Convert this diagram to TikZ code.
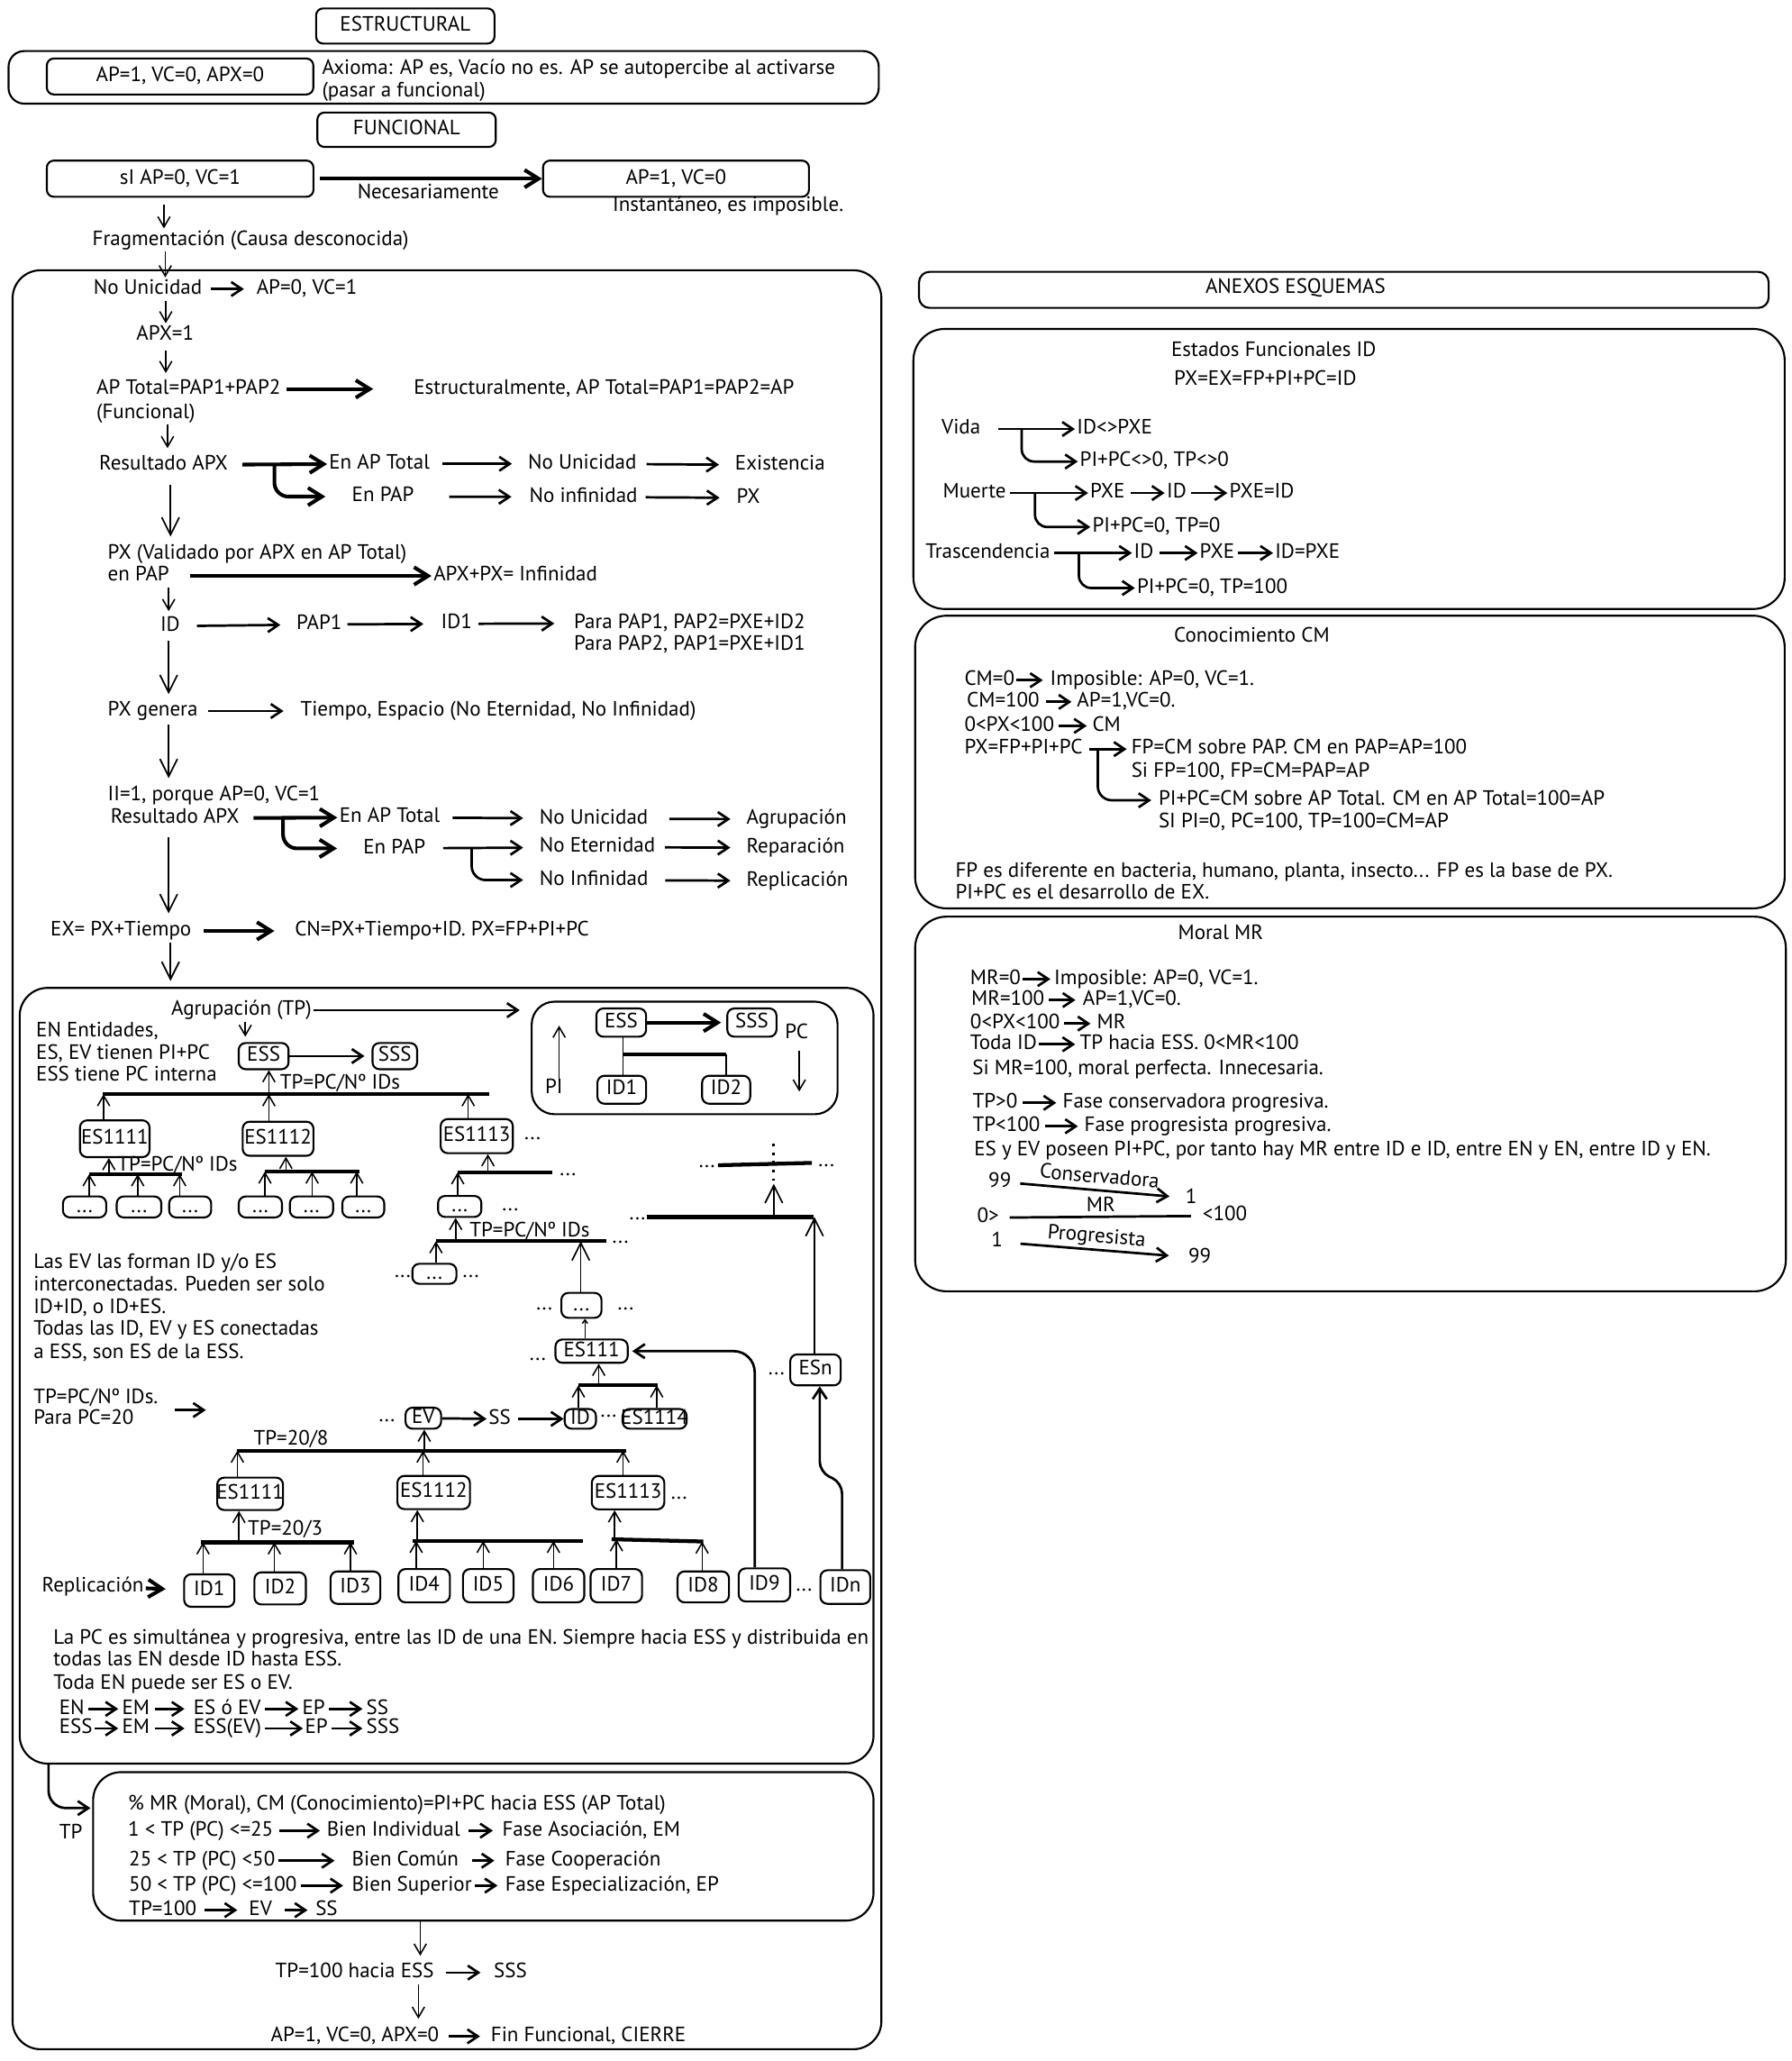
\documentclass[tikz,border=0pt]{standalone}
\usepackage{fontspec}
\setmainfont{PT Sans}
\usetikzlibrary{arrows.meta,fit}
\newcommand\bxn[3]{\node[bx, fit={#2}] (#1) {}; \node[tcen] (#1-t) at (#1.center) {#3};}
\begin{document}
\begin{tikzpicture}[x=0.75pt,y=-0.75pt,
  every node/.style={font=\fontsize{11.85}{14}\selectfont},
  tx/.style={inner sep=1pt, anchor=west, text height=8.4pt, text depth=2.5pt},
  tcen/.style={inner sep=1pt, text height=8.4pt, text depth=2.5pt},
  bx/.style={draw, line width=1.1pt, rounded corners=4pt, inner sep=0pt},
  cont/.style={draw, line width=1.1pt, rounded corners=14pt, inner sep=0pt},
  arr/.style={-{Straight Barb[length=6pt,width=7pt]}, line width=0.8pt},
  marr/.style={-{Straight Barb[length=6pt,width=8pt]}, line width=1.4pt},
  harr/.style={-{Straight Barb[length=8pt,width=10pt]}, line width=2.1pt},
  barr/.style={-{Straight Barb[length=10pt,width=10pt]}, line width=0.9pt},
  hbar/.style={line width=2.2pt},
  ln/.style={line width=1pt},
]
\fill[white] (0,0) rectangle (1366,1571);
\useasboundingbox (0,0) rectangle (1366,1571);

% ---------------- top
\bxn{estr}{(241,6.4) (377,33.2)}{ESTRUCTURAL}
\node[cont, rounded corners=9pt, fit={(6.5,38.9) (670,79)}] (axb) {};
\bxn{apa}{(35.7,44.6) (238.9,72)}{AP=1, VC=0, APX=0}
\node[tx] (ax1) at (244,53) {Axioma: AP es, Vacío no es. AP se autopercibe al activarse};
\node[tx] (ax2) at (244,69.8) {(pasar a funcional)};
\bxn{func}{(242,85.8) (378,112)}{FUNCIONAL}
\bxn{si}{(35.7,122.4) (239,150)}{sI AP=0, VC=1}
\bxn{apb}{(414,122.4) (616.8,150)}{AP=1, VC=0}
\draw[harr, shorten <=3pt] (si) -- (apb) node[midway, below=1pt, tcen] (nec) {Necesariamente};
\node[tx] (inst) at (465.6,157.4) {Instantáneo, es imposible.};
\node[tx] (frag) at (68.9,183) {Fragmentación (Causa desconocida)};
\draw[arr, shorten <=4pt] (si.south -| 125,0) -- (frag.north -| 125,0);

% ---------------- main container
\node[cont, rounded corners=16pt, fit={(9.6,206) (672,1562)}] (mainb) {};
\node[tx] (nu) at (69.7,220.3) {No Unicidad};
\node[tx] (nuv) at (194,220.3) {AP=0, VC=1};
\draw[arr] (frag.south -| 126,0) -- (nu.north -| 126,0);
\draw[marr, shorten <=4pt, shorten >=6pt] (nu) -- (nuv);
\node[tx] (apx) at (102.4,255.3) {APX=1};
\draw[arr] (nu.south -| 126.4,0) -- (apx.north -| 126.4,0);
\node[tx] (apt) at (72,296.5) {AP Total=PAP1+PAP2};
\node[tx] (funl) at (72,314.8) {(Funcional)};
\node[tx] (estm) at (313.9,296.5) {Estructuralmente, AP Total=PAP1=PAP2=AP};
\draw[arr, shorten <=2.5pt, shorten >=2.5pt] (apx.south -| 126.4,0) -- (apt.north -| 126.4,0);
\draw[harr, shorten <=2pt, shorten >=22pt] (apt) -- (estm);

\node[tx] (res1) at (74.1,354.5) {Resultado APX};
\draw[arr, shorten >=3pt] (funl.south -| 127.7,0) -- (res1.north -| 127.7,0);
\node[tx] (eat1) at (249.4,353.5) {En AP Total};
\node[tx] (epap1) at (266.8,378.5) {En PAP};
\node[tx] (nu1) at (401,353.5) {No Unicidad};
\node[tx] (exi) at (558.9,354.5) {Existencia};
\node[tx] (ninf1) at (402,378.8) {No infinidad};
\node[tx] (px1) at (560,379.5) {PX};
\draw[harr, shorten <=7pt] (res1) -- (eat1);
\coordinate (br1) at (209.2,353.8);
\draw[harr, rounded corners=8pt, shorten >=14pt] (br1) |- (epap1.west);
\draw[marr, shorten <=6pt, shorten >=8pt] (eat1) -- (nu1);
\draw[marr, shorten <=4.5pt, shorten >=8pt] (nu1) -- (exi);
\draw[marr, shorten <=19pt, shorten >=9pt] (epap1) -- (ninf1);
\draw[marr, shorten <=3.5pt, shorten >=8.5pt] (ninf1) -- (px1);

\node[tx] (pxv) at (80.6,422.4) {PX (Validado por APX en AP Total)};
\draw[barr, shorten <=4.4pt, shorten >=3.4pt] (res1.south -| 130,0) -- (pxv.north -| 130,0);
\node[tx] (enpap) at (80.6,439) {en PAP};
\node[tx] (inf) at (329,439) {APX+PX= Infinidad};
\draw[harr, shorten <=11pt] (enpap) -- (inf);
\node[tx] (id0) at (120.7,477.3) {ID};
\draw[arr, shorten >=2pt] (enpap.south -| 128.6,0) -- (id0.north -| 128.6,0);
\node[tx] (pap1) at (224.5,476) {PAP1};
\node[tx] (id1t) at (334.8,475.5) {ID1};
\node[tx] (para1) at (436,475) {Para PAP1, PAP2=PXE+ID2};
\node[tx] (para2) at (436,491.8) {Para PAP2, PAP1=PXE+ID1};
\draw[marr, shorten <=8.5pt, shorten >=8pt] (id0) -- (pap1);
\draw[marr, shorten <=2pt, shorten >=9pt] (pap1) -- (id1t);
\draw[marr, shorten <=2.5pt, shorten >=10pt] (id1t) -- (para1);

\node[tx] (pxg) at (80.6,542) {PX genera};
\node[tx] (tie) at (227.5,542) {Tiempo, Espacio (No Eternidad, No Infinidad)};
\draw[barr, shorten <=1.6pt, shorten >=3pt] (id0.south -| 128.6,0) -- (pxg.north -| 128.6,0);
\draw[marr, shorten <=5pt, shorten >=8.5pt] (pxg) -- (tie);

\node[tx] (ii) at (80.6,606.7) {II=1, porque AP=0, VC=1};
\draw[barr, shorten <=1.2pt, shorten >=3.5pt] (pxg.south -| 128.6,0) -- (ii.north -| 128.6,0);
\node[tx] (res2) at (82.8,623.8) {Resultado APX};
\node[tx] (eat2) at (257.2,623) {En AP Total};
\node[tx] (epap2) at (275.5,646.7) {En PAP};
\node[tx] (nu2) at (409.8,624) {No Unicidad};
\node[tx] (agr) at (567.6,624.5) {Agrupación};
\node[tx] (noet) at (409.8,645.8) {No Eternidad};
\node[tx] (repa) at (567.6,646.2) {Reparación};
\node[tx] (ninf2) at (409.8,670.8) {No Infinidad};
\node[tx] (repl) at (567.6,671.5) {Replicación};
\draw[harr, shorten <=7pt] (res2) -- (eat2);
\coordinate (br2) at (215.8,623.3);
\draw[harr, rounded corners=8pt, shorten >=13.9pt] (br2) |- (epap2.west);
\draw[marr, shorten <=6pt, shorten >=8.2pt] (eat2) -- (nu2);
\draw[marr, shorten <=11pt, shorten >=8pt] (nu2) -- (agr);
\draw[marr, shorten <=9pt, shorten >=8.2pt] (epap2) -- (noet);
\draw[marr, shorten <=4.5pt, shorten >=8pt] (noet) -- (repa);
\coordinate (br3) at (359.6,646);
\draw[marr, rounded corners=8pt, shorten >=8.2pt] (br3) |- (ninf2.west);
\draw[marr, shorten <=8.5pt, shorten >=8pt] (ninf2) -- (repl);

\node[tx] (ex) at (37,709.6) {EX= PX+Tiempo};
\node[tx] (cn) at (223.2,709.6) {CN=PX+Tiempo+ID. PX=FP+PI+PC};
\draw[barr, shorten <=4.2pt, shorten >=3.4pt] (res2.south -| 128.6,0) -- (ex.north -| 128.6,0);
\draw[harr, shorten <=6pt, shorten >=10.5pt] (ex) -- (cn);

% ---------------- inner box 2
\node[cont, rounded corners=16pt, fit={(15,753) (666,1344.3)}] (b2) {};
\draw[barr, shorten >=3.4pt] (ex.south -| 130,0) -- (b2.north -| 130,0);

\node[tx] (agtp) at (129,770) {Agrupación (TP)};
\node[cont, rounded corners=13pt, fit={(405.4,763.5) (638.6,849.3)}] (pcb) {};
\draw[marr, shorten >=6.3pt] (agtp.east) -- (agtp.east -| pcb.west);
\bxn{essb}{(454.7,768.7) (492.6,790.2)}{ESS}
\bxn{sssb}{(554.5,768.7) (592,790.2)}{SSS}
\draw[harr, shorten >=3pt] (essb) -- (sssb);
\node[tx] (pcl) at (597,787.5) {PC};
\coordinate (pct) at (609.4,801.2);
\coordinate (pcbt) at (609.4,832);
\draw[arr] (pct) -- (pcbt);
\node[tx] (pil) at (414,829.8) {PI};
\coordinate (pib) at (426.3,825);
\coordinate (pit) at (426.3,781.8);
\draw[arr] (pib) -- (pit);
\bxn{id1b}{(455.5,820) (492.6,841.3)}{ID1}
\bxn{id2b}{(535.3,820) (572,841.3)}{ID2}
\draw[ln] (essb.south -| 475,0) -- (id1b.north -| 475,0);
\coordinate (pcj) at (475,803.5);
\draw[hbar] (pcj) -- (id2b.north |- pcj);
\draw[ln] (id2b.north |- pcj) -- (id2b.north);

\node[tx] (en1) at (26,786.5) {EN Entidades,};
\node[tx] (en2) at (26,803.5) {ES, EV tienen PI+PC};
\node[tx] (en3) at (26,820) {ESS tiene PC interna};
\bxn{ess1}{(182,795) (220,815)}{ESS}
\bxn{sss1}{(284,795) (318,815)}{SSS}
\draw[arr, shorten >=3pt] (agtp.south -| 187,0) -- (ess1.north -| 187,0);
\draw[marr, shorten >=4pt] (ess1) -- (sss1);
\coordinate (t1l) at (78,834);
\coordinate (t1r) at (373,834);
\draw[hbar] (t1l) -- (t1r);
\draw[arr] (t1l -| 205,0) -- (ess1.south -| 205,0);
\node[tx] (tp1) at (212,826.5) {TP=PC/Nº IDs};

\bxn{a1}{(61,854) (114,882)}{ES1111}
\bxn{a2}{(185,855) (239,881)}{ES1112}
\bxn{a3}{(336,853) (391,879)}{ES1113}
\node[tcen] (d1) at (406,865) {...};
\draw[arr] (a1.north -| 79,0) -- (t1l -| 79,0);
\draw[arr] (a2.north -| 205,0) -- (t1l -| 205,0);
\draw[arr] (a3.north -| 357,0) -- (t1l -| 357,0);

\coordinate (t2l) at (68,895);
\coordinate (t2r) at (139,895);
\draw[hbar] (t2l) -- (t2r);
\draw[arr] (t2l -| 83,0) -- (a1.south -| 83,0);
\node[tx] (tp2) at (88,888.6) {TP=PC/Nº IDs};
\bxn{a11}{(48,912) (81,928)}{...}
\bxn{a12}{(89,912) (123,928)}{...}
\bxn{a13}{(129,912) (161,928)}{...}
\draw[arr] (a11.north -| 68,0) -- (t2l -| 68,0);
\draw[arr] (a12.north -| 105,0) -- (t2l -| 105,0);
\draw[arr] (a13.north -| 137,0) -- (t2l -| 137,0);

\coordinate (t3l) at (202,893);
\coordinate (t3r) at (274,893);
\draw[hbar] (t3l) -- (t3r);
\draw[arr] (t3l -| 218,0) -- (a2.south -| 218,0);
\bxn{a21}{(182,912) (215,928)}{...}
\bxn{a22}{(221,912) (254,928)}{...}
\bxn{a23}{(261,912) (293,928)}{...}
\draw[arr] (a21.north -| 202,0) -- (t3l -| 202,0);
\draw[arr] (a22.north -| 238,0) -- (t3l -| 238,0);
\draw[arr] (a23.north -| 272,0) -- (t3l -| 272,0);

\coordinate (t4l) at (349,893.5);
\coordinate (t4r) at (421,893.5);
\draw[hbar] (t4l) -- (t4r);
\draw[arr] (t4l -| 372,0) -- (a3.south -| 372,0);
\node[tcen] (d2) at (433,892) {...};
\bxn{a31}{(334,911.6) (367,927.6)}{...}
\draw[arr] (a31.north -| 349,0) -- (t4l -| 349,0);
\node[tcen] (d3) at (389,918.6) {...};

% right part of tree
\node[tcen] (d4) at (539,886) {...};
\coordinate (t5l) at (547.4,888.2);
\coordinate (t5r) at (619,886.4);
\draw[hbar] (t5l) -- (t5r);
\node[tcen] (d5) at (630,885) {...};
\coordinate (dott) at (590,871.7);
\coordinate (dotb) at (590,899.7);
\draw[line width=1.5pt, dash pattern=on 1.5pt off 3.5pt] (dott) -- (dotb);
\coordinate (t6l) at (493,927.6);
\coordinate (t6r) at (620.2,927.6);
\draw[hbar] (t6l) -- (t6r);
\node[tcen] (d6) at (486,926) {...};
\draw[barr] (t6l -| dotb) -- ([yshift=-2pt]dotb);
\bxn{esn}{(602.5,1032.4) (641,1056)}{ESn}
\draw[barr] (esn.north -| 621,0) -- (t6r -| 621,0);
\node[tcen] (d7) at (592,1044) {...};

\coordinate (t7l) at (332.4,946.1);
\coordinate (t7r) at (462.2,946.1);
\draw[hbar] (t7l) -- (t7r);
\node[tx] (tp3) at (356.5,938.6) {TP=PC/Nº IDs};
\node[tcen] (d8) at (473,943.7) {...};
\draw[arr] (t7l -| 347.4,0) -- (a31.south -| 347.4,0);
\bxn{b31}{(314.4,963.3) (348,978.6)}{...}
\draw[arr] (b31.north -| 332.4,0) -- (t7l -| 332.4,0);
\node[tcen] (d9) at (307,969.6) {...};
\node[tcen] (d10) at (359,969.6) {...};
\bxn{b32}{(428,985.5) (458.6,1004.5)}{...}
\draw[barr] (b32.north -| 442.8,0) -- (t7l -| 442.8,0);
\node[tcen] (d11) at (415,994.8) {...};
\node[tcen] (d12) at (477,994.8) {...};
\bxn{es111}{(423.5,1021) (478.6,1038.8)}{ES111}
\draw[arr, -{Straight Barb[length=2pt,width=3pt]}] (es111.north -| 446,0) -- (b32.south -| 446,0);
\node[tcen] (d13) at (410,1033) {...};

\coordinate (t8l) at (441,1056);
\coordinate (t8r) at (501.2,1056);
\draw[hbar] (t8l) -- (t8r);
\draw[arr] (t8l -| 456.5,0) -- (es111.south -| 456.5,0);
\bxn{idx}{(430.5,1074) (454.4,1089)}{ID}
\bxn{es1114}{(474.7,1074) (523.5,1089)}{ES1114}
\draw[arr] (idx.north -| t8l) -- (t8l);
\draw[arr] (es1114.north -| 500.7,0) -- (t8r -| 500.7,0);
\node[tcen] (d14) at (464,1076) {...};
\bxn{ev}{(309.2,1073) (336.3,1089)}{EV}
\node[tcen] (d15) at (295,1080) {...};
\node[tx] (ss1) at (371,1081.6) {SS};
\draw[marr] (ev) -- (ss1);
\draw[marr, shorten <=3pt] (ss1) -- (idx);

% left texts
\node[tx] (l1) at (24,962.7) {Las EV las forman ID y/o ES};
\node[tx] (l2) at (24,979.8) {interconectadas. Pueden ser solo};
\node[tx] (l3) at (24,997) {ID+ID, o ID+ES.};
\node[tx] (l4) at (24,1014) {Todas las ID, EV y ES conectadas};
\node[tx] (l5) at (24,1031.3) {a ESS, son ES de la ESS.};
\node[tx] (l6) at (24,1066) {TP=PC/Nº IDs.};
\node[tx] (l7) at (24,1082) {Para PC=20};
\coordinate (l6s) at (133,1074.8);
\coordinate (l6e) at (157,1074.8);
\draw[marr] (l6s) -- (l6e);

% lower tree
\node[tx] (tp208) at (191.8,1097.7) {TP=20/8};
\coordinate (t9l) at (181,1105.7);
\coordinate (t9r) at (477.3,1105.7);
\draw[hbar] (t9l) -- (t9r);
\draw[arr] (t9l -| 323.5,0) -- (ev.south -| 323.5,0);
\bxn{c1}{(165.6,1126.3) (215.8,1151)}{ES1111}
\bxn{c2}{(303,1125) (358.3,1150.3)}{ES1112}
\bxn{c3}{(451.2,1125) (506.5,1150.5)}{ES1113}
\node[tx] (d16) at (510,1138.7) {...};
\draw[arr] (c1.north -| t9l) -- (t9l);
\draw[arr] (c2.north -| 322.6,0) -- (t9l -| 322.6,0);
\draw[arr] (c3.north -| 475,0) -- (t9l -| 475,0);

\coordinate (t10l) at (153.4,1175.6);
\coordinate (t10r) at (270.3,1175.6);
\draw[hbar] (t10l) -- (t10r);
\draw[arr] (t10l -| 182.2,0) -- (c1.south -| 182.2,0);
\node[tx] (tp203) at (187.4,1166.5) {TP=20/3};
\bxn{id1}{(140.4,1200) (178.7,1224.8)}{ID1}
\bxn{id2}{(194,1198.5) (233.2,1223)}{ID2}
\bxn{id3}{(252,1197.8) (290,1222.5)}{ID3}
\draw[arr] (id1.north -| 154.8,0) -- (t10l -| 154.8,0);
\draw[arr] (id2.north -| 209.2,0) -- (t10l -| 209.2,0);
\draw[arr] (id3.north -| 267.2,0) -- (t10l -| 267.2,0);

\coordinate (t11l) at (314.7,1174.5);
\coordinate (t11r) at (444.6,1174.5);
\draw[hbar] (t11l) -- (t11r);
\draw[arr] (t11l -| 318.2,0) -- (c2.south -| 318.2,0);
\bxn{id4}{(303.8,1196) (343,1221.4)}{ID4}
\bxn{id5}{(353,1196) (391.5,1221.4)}{ID5}
\bxn{id6}{(406.3,1196) (445.5,1221.4)}{ID6}
\draw[arr] (id4.north -| 317.3,0) -- (t11l -| 317.3,0);
\draw[arr] (id5.north -| 368.4,0) -- (t11l -| 368.4,0);
\draw[arr] (id6.north -| 422,0) -- (t11l -| 422,0);

\coordinate (t12l) at (466.4,1173.3);
\coordinate (t12r) at (536.2,1175);
\draw[hbar] (t12l) -- (t12r);
\draw[arr] (t12l -| 468.6,0) -- (c3.south -| 468.6,0);
\bxn{id7}{(450.3,1196) (489.5,1221.4)}{ID7}
\bxn{id8}{(516.6,1197.8) (555.8,1221.4)}{ID8}
\draw[arr] (id7.north -| 470,0) -- (t12l -| 470,0);
\draw[arr] (id8.north -| 535.3,0) -- (t12r -| 535.3,0);
\bxn{id9}{(563.2,1195.5) (602.4,1220.7)}{ID9}
\node[tcen] (d17) at (613,1209) {...};
\bxn{idn}{(625.5,1196.9) (663.5,1222.5)}{IDn}
\draw[marr, rounded corners=12pt, shorten >=2pt] (id9.north -| 575.4,0) |- (es111.east);
\draw[marr, rounded corners=6pt] (idn.north -| 642,0) -- ++(0,-66) -- ++(-17,-8) -- (esn.south -| 625,0);

\node[tx] (repl2) at (30.5,1209.2) {Replicación};
\draw[harr, shorten >=10pt] (repl2) -- (id1);

% bottom text of box 2
\node[tx] (p1) at (39.2,1249.3) {La PC es simultánea y progresiva, entre las ID de una EN. Siempre hacia ESS y distribuida en};
\node[tx] (p2) at (39.2,1266) {todas las EN desde ID hasta ESS.};
\node[tx] (p3) at (39.2,1283.6) {Toda EN puede ser ES o EV.};
\node[tx] (q1) at (43.6,1302.6) {EN};
\node[tx] (q2) at (91.5,1302.6) {EM};
\node[tx] (q3) at (146,1302.6) {ES ó EV};
\node[tx] (q4) at (228.9,1302.6) {EP};
\node[tx] (q5) at (277.7,1302.6) {SS};
\draw[marr, shorten <=1pt, shorten >=1pt] (q1) -- (q2);
\draw[marr, shorten <=2pt, shorten >=4pt] (q2) -- (q3);
\draw[marr, shorten <=1pt, shorten >=1pt] (q3) -- (q4);
\draw[marr, shorten <=1pt, shorten >=1pt] (q4) -- (q5);
\node[tx] (r1) at (43.6,1317.5) {ESS};
\node[tx] (r2) at (91.5,1317.5) {EM};
\node[tx] (r3) at (146,1317.5) {ESS(EV)};
\node[tx] (r4) at (231,1317.5) {EP};
\node[tx] (r5) at (277.7,1317.5) {SSS};
\draw[marr, shorten <=0pt, shorten >=1pt] (r1) -- (r2);
\draw[marr, shorten <=2pt, shorten >=4pt] (r2) -- (r3);
\draw[marr, shorten <=1pt, shorten >=0pt] (r3) -- (r4);
\draw[marr, shorten <=1pt, shorten >=1pt] (r4) -- (r5);

% ---------------- box 3
\node[cont, rounded corners=16pt, fit={(71,1350.8) (666,1464)}] (b3) {};
\draw[marr, rounded corners=10pt, shorten >=1pt] (b2.south -| 37,0) |- (b3.west |- 0,1378.2);
\node[tx] (tpl) at (43.6,1397.7) {TP};
\node[tx] (m0) at (96,1376) {\% MR (Moral), CM (Conocimiento)=PI+PC hacia ESS (AP Total)};
\node[tx] (m11) at (96,1395.4) {1 < TP (PC) <=25};
\node[tx] (m12) at (247.6,1395.4) {Bien Individual};
\node[tx] (m13) at (381.4,1395.4) {Fase Asociación, EM};
\draw[marr, shorten <=2.5pt, shorten >=2.7pt] (m11) -- (m12);
\draw[marr, shorten <=3.5pt, shorten >=4.2pt] (m12) -- (m13);
\node[tx] (m21) at (96.8,1418.3) {25 < TP (PC) <50};
\node[tx] (m22) at (266.8,1418.3) {Bien Común};
\node[tx] (m23) at (383.6,1418.3) {Fase Cooperación};
\draw[marr, shorten <=0.5pt, shorten >=8.8pt] (m21) -- (m22);
\draw[marr, shorten <=6.5pt, shorten >=5pt] (m22) -- (m23);
\node[tx] (m31) at (96.8,1437.3) {50 < TP (PC) <=100};
\node[tx] (m32) at (266.8,1437.3) {Bien Superior};
\node[tx] (m33) at (383.6,1437.3) {Fase Especialización, EP};
\draw[marr, shorten <=1pt, shorten >=3.9pt] (m31) -- (m32);
\draw[marr, shorten <=0.5pt, shorten >=3.2pt] (m32) -- (m33);
\node[tx] (m41) at (96.8,1456) {TP=100};
\node[tx] (m42) at (188.3,1456) {EV};
\node[tx] (m43) at (239,1456) {SS};
\draw[marr, shorten <=3.5pt, shorten >=5.5pt] (m41) -- (m42);
\draw[marr, shorten <=6pt, shorten >=3.4pt] (m42) -- (m43);

\node[tx] (f1) at (208.4,1503.6) {TP=100 hacia ESS};
\node[tx] (f2) at (375,1503.6) {SSS};
\draw[arr, shorten >=3pt] (b3.south -| 320.4,0) -- (f1.north -| 320.4,0);
\draw[marr, shorten <=5.5pt, shorten >=6.5pt] (f1) -- (f2);
\node[tx] (g1) at (204.9,1552.2) {AP=1, VC=0, APX=0};
\node[tx] (g2) at (372.7,1552.2) {Fin Funcional, CIERRE};
\draw[arr, shorten >=3.4pt] (f1.south -| 319,0) -- (g1.north -| 319,0);
\draw[marr, shorten <=4.5pt, shorten >=5pt] (g1) -- (g2);

% ---------------- right column
\node[bx, rounded corners=6pt, fit={(700.7,207.2) (1348.5,234.7)}] (anx) {};
\node[tx] (anxt) at (917.5,219.8) {ANEXOS ESQUEMAS};

\node[cont, rounded corners=18pt, fit={(696.4,250.7) (1360.7,464.2)}] (ba) {};
\node[tx] (ea0) at (891.4,267.4) {Estados Funcionales ID};
\node[tx] (ea1) at (893.6,289.6) {PX=EX=FP+PI+PC=ID};
\node[tx] (vida) at (716.4,327) {Vida};
\node[tx] (v1) at (819.6,327) {ID<>PXE};
\node[tx] (v2) at (821.8,351.8) {PI+PC<>0, TP<>0};
\draw[marr, shorten <=9pt] (vida) -- (v1);
\coordinate (vb) at (779,327);
\draw[marr, rounded corners=7pt] (vb) |- (v2.west);
\node[tx] (mu) at (717.3,375.8) {Muerte};
\node[tx] (mu1) at (829.6,375.8) {PXE};
\node[tx] (mu2) at (888,375.8) {ID};
\node[tx] (mu3) at (935.8,375.8) {PXE=ID};
\node[tx] (mu4) at (831.3,401.7) {PI+PC=0, TP=0};
\draw[marr, shorten <=1pt] (mu) -- (mu1);
\draw[marr, shorten <=2pt] (mu1) -- (mu2);
\draw[marr, shorten <=1.5pt] (mu2) -- (mu3);
\coordinate (mb) at (789.1,375.8);
\draw[marr, rounded corners=7pt] (mb) |- (mu4.west);
\node[tx] (tr) at (704.2,421.5) {Trascendencia};
\node[tx] (tr1) at (863,421.5) {ID};
\node[tx] (tr2) at (913.2,421.5) {PXE};
\node[tx] (tr3) at (970.6,421.5) {ID=PXE};
\node[tx] (tr4) at (865.3,448.2) {PI+PC=0, TP=100};
\draw[marr, shorten <=1pt] (tr) -- (tr1);
\draw[marr, shorten <=2pt] (tr1) -- (tr2);
\draw[marr, shorten <=1pt] (tr2) -- (tr3);
\coordinate (tb) at (822.6,421.5);
\draw[marr, rounded corners=7pt] (tb) |- (tr4.west);

\node[cont, rounded corners=18pt, fit={(697.7,469.3) (1360.7,692.4)}] (bb) {};
\node[tx] (cm0) at (893.6,485.3) {Conocimiento CM};
\node[tx] (cm1) at (733.8,518.5) {CM=0};
\node[tx] (cm1b) at (799.1,518.5) {Imposible: AP=0, VC=1.};
\draw[marr, shorten >=3pt] (cm1) -- (cm1b);
\node[tx] (cm2) at (735.6,535) {CM=100};
\node[tx] (cm2b) at (819.6,535) {AP=1,VC=0.};
\draw[marr, shorten <=2.5pt, shorten >=2pt] (cm2) -- (cm2b);
\node[tx] (cm3) at (733.8,553.3) {0<PX<100};
\node[tx] (cm3b) at (831.3,553.3) {CM};
\draw[marr, shorten <=1.5pt, shorten >=2pt] (cm3) -- (cm3b);
\node[tx] (cm4) at (733.8,571) {PX=FP+PI+PC};
\node[tx] (cm4b) at (861,571) {FP=CM sobre PAP. CM en PAP=AP=100};
\draw[marr, shorten <=2.5pt, shorten >=1.5pt] (cm4) -- (cm4b);
\node[tx] (cm4c) at (861,588.3) {Si FP=100, FP=CM=PAP=AP};
\node[tx] (cm5) at (881.8,610) {PI+PC=CM sobre AP Total. CM en AP Total=100=AP};
\node[tx] (cm5b) at (881.8,627.2) {SI PI=0, PC=100, TP=100=CM=AP};
\coordinate (cb) at (837,571);
\draw[marr, rounded corners=8pt, shorten >=3pt] (cb) |- (cm5.west);
\node[tx] (cm6) at (726.9,664.5) {FP es diferente en bacteria, humano, planta, insecto... FP es la base de PX.};
\node[tx] (cm7) at (726.9,681) {PI+PC es el desarrollo de EX.};

\node[cont, rounded corners=18pt, fit={(697.7,698.7) (1361.6,984.3)}] (bc) {};
\node[tx] (mr0) at (896.6,712.5) {Moral MR};
\node[tx] (mr1) at (738.2,746.3) {MR=0};
\node[tx] (mr1b) at (802.2,746.3) {Imposible: AP=0, VC=1.};
\draw[marr, shorten >=1pt] (mr1) -- (mr1b);
\node[tx] (mr2) at (739,762.3) {MR=100};
\node[tx] (mr2b) at (824,762.3) {AP=1,VC=0.};
\draw[marr, shorten <=1.5pt, shorten >=3pt] (mr2) -- (mr2b);
\node[tx] (mr3) at (738.2,780.2) {0<PX<100};
\node[tx] (mr3b) at (834.8,780.2) {MR};
\draw[marr, shorten <=1pt, shorten >=2.5pt] (mr3) -- (mr3b);
\node[tx] (mr4) at (738.2,796) {Toda ID};
\node[tx] (mr4b) at (821.8,796) {TP hacia ESS. 0<MR<100};
\draw[marr, shorten >=1.5pt] (mr4) -- (mr4b);
\node[tx] (mr5) at (739.9,815) {Si MR=100, moral perfecta. Innecesaria.};
\node[tx] (mr6) at (740,840.6) {TP>0};
\node[tx] (mr6b) at (808.7,840.6) {Fase conservadora progresiva.};
\draw[marr, shorten <=1.5pt, shorten >=2.5pt] (mr6) -- (mr6b);
\node[tx] (mr7) at (740,858.5) {TP<100};
\node[tx] (mr7b) at (825.2,858.5) {Fase progresista progresiva.};
\draw[marr, shorten <=1.5pt, shorten >=2.5pt] (mr7) -- (mr7b);
\node[tx] (mr8) at (741.2,876.8) {ES y EV poseen PI+PC, por tanto hay MR entre ID e ID, entre EN y EN, entre ID y EN.};
\node[tx] (k1) at (752.1,900.8) {99};
\node[tx] (k2) at (902.3,913.4) {1};
\draw[marr, shorten <=4pt, shorten >=8pt] (k1) -- (k2) node[midway, above=0pt, sloped, tcen] (kl1) {Conservadora};
\node[tx] (k3) at (743.4,928.2) {0>};
\node[tx] (k4) at (915.4,926.7) {<100};
\draw[line width=1.4pt, shorten <=4.9pt, shorten >=5.5pt] (k3) -- (k4) node[midway, above=-1pt, tcen] (kl2) {MR};
\node[tx] (k5) at (754.3,946.6) {1};
\node[tx] (k6) at (904.5,959) {99};
\draw[marr, shorten <=9pt, shorten >=10pt] (k5) -- (k6) node[midway, above=0pt, sloped, tcen] (kl3) {Progresista};
\end{tikzpicture}
\end{document}
